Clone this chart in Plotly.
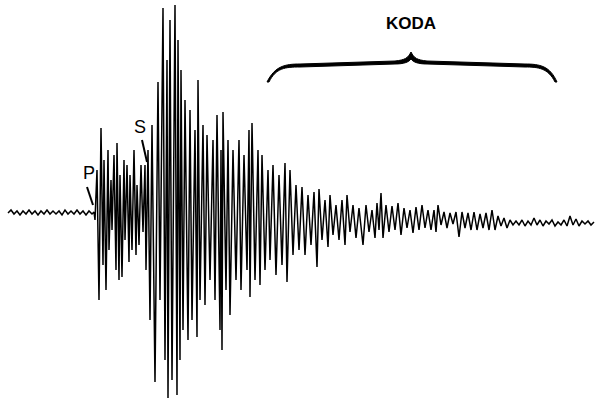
import plotly.graph_objects as go

# Seismogram trace: time position (px-like units) and displacement (positive up)
pre_t = [8, 11, 14, 17, 20, 23, 26, 29, 32, 35, 38, 41, 44, 47, 50, 53, 56, 59, 62, 65,
         68, 71, 74, 77, 80, 83, 86, 89, 92, 94]
pre_amp = [0, 3, -1, 2, -2, 2, -1, 3, -1, 2, -2, 2, -1, 3, -1, 2, -1, 2, -2, 3,
           -1, 2, -1, 3, -1, 2, -2, 2, -1, 1]

burst_t = [95, 97, 99, 101, 103, 104, 106, 108, 109, 111, 112, 114, 116, 117, 119, 120,
           122, 124, 125, 127, 129, 130, 132, 134, 136, 137, 139, 141, 143, 145, 146,
           148, 150, 152, 155, 158, 160, 163, 165, 167, 168, 170, 172, 175, 177, 178,
           180, 181, 183, 185, 188, 190, 192, 195, 197, 198, 200, 203, 205, 207, 210,
           213, 215, 217, 220, 221, 222, 223, 226, 228, 230, 233, 236, 239, 241, 244,
           247, 249, 250, 252, 255, 258, 260, 262, 265, 268, 270, 273, 276, 279, 282,
           285, 287, 290, 293, 296, 299, 302, 305, 308, 311, 314, 317, 319, 322, 325,
           328, 330, 333, 336, 339, 342, 345, 347, 350, 353, 356, 359, 363, 366, 369,
           372, 375, 377, 379, 381, 383]
burst_amp = [-7, 43, -87, 85, -52, 53, -77, 63, -37, 33, -17, 58, -57, 70, -67, 38,
             -64, 53, -27, 48, -49, 38, -37, 63, -42, 28, -32, 48, -19, 48, -57,
             63, -107, 88, -169, 131, -87, 205, -147, 153, -185, 193, -167, 208, -182, 173,
             -147, 143, -117, 113, -127, 103, -107, 83, -124, 133, -87, 88, -92, 78, -67,
             73, -87, 98, -117, 63, -137, 101, -77, 73, -102, 63, -67, 73, -77, 58,
             -57, 83, -84, 90, -67, 63, -72, 58, -57, 43, -47, 48, -62, 38, -52,
             50, -69, 43, -42, 28, -37, 26, -42, 18, -32, 21, -54, 24, -27, 13,
             -34, 18, -22, 8, -27, 13, -32, 18, -19, 8, -25, 5, -32, 8, -19,
             3, -25, 10, -17, 20, -25]

coda_t = [386, 389, 392, 395, 398, 401, 404, 407, 410, 413, 416, 419, 422, 425, 428,
          431, 434, 436, 438, 441, 444, 447, 450, 453, 456, 459, 462, 465, 468, 471,
          474, 477, 480, 483, 486, 489, 492, 495, 498, 501, 504, 507, 510, 513, 516,
          519, 522, 525, 528, 531, 534, 537, 540, 543, 546, 549, 552, 555, 558, 561,
          564, 567, 570, 573, 576, 579, 582, 585, 588, 591, 594]
coda_amp = [8, -19, 7, -17, 10, -22, 5, -15, 3, -20, 6, -17, 8, -15, 3,
            -17, 3, -19, 8, -12, 1, -15, 0, -11, 1, -24, 1, -15, 0, -17,
            1, -17, -1, -15, 0, -17, 3, -17, -3, -13, -5, -15, -7, -12, -8,
            -12, -7, -13, -8, -12, -5, -12, -7, -13, -8, -11, -7, -13, -9, -12,
            -7, -13, -3, -12, -6, -13, -8, -11, -8, -12, -9]

t = pre_t + burst_t + coda_t
amp = pre_amp + burst_amp + coda_amp

fig = go.Figure()
fig.add_trace(go.Scatter(x=t, y=amp, mode="lines",
                         line=dict(color="black", width=1.5),
                         hoverinfo="skip", showlegend=False))

# Coda brace (annotation)
brace = ("M 267,131 C 275,147 285,149 300,149 L 395,152 C 405,153 408,155 411,161 "
         "C 414,155 417,153 427,152 L 525,149 C 540,149 550,147 557,131 "
         "L 555,131 C 548,145 538,146 525,146 L 427,149 C 418,149 413,151 411,154 "
         "C 409,151 404,149 395,149 L 300,146 C 285,146 276,145 269,131 Z")
fig.add_shape(type="path", path=brace, xref="x", yref="y",
              fillcolor="black", line=dict(color="black", width=1))

# Arrows for P and S
fig.add_shape(type="line", x0=87, y0=26, x1=93, y1=8, xref="x", yref="y",
              line=dict(color="black", width=2))
fig.add_shape(type="line", x0=142, y0=73, x1=147, y1=51, xref="x", yref="y",
              line=dict(color="black", width=2))

fig.add_annotation(x=411, y=190, text="<b>KODA</b>", showarrow=False,
                   font=dict(family="Liberation Sans", size=17, color="black"))
fig.add_annotation(x=89, y=40, text="P", showarrow=False,
                   font=dict(family="Liberation Sans", size=18, color="black"))
fig.add_annotation(x=140, y=86, text="S", showarrow=False,
                   font=dict(family="Liberation Sans", size=18, color="black"))

fig.update_layout(
    width=596, height=401,
    margin=dict(l=0, r=0, t=0, b=0),
    paper_bgcolor="white", plot_bgcolor="white",
    xaxis=dict(range=[0, 596], visible=False, fixedrange=True),
    yaxis=dict(range=[-188, 213], visible=False, fixedrange=True),
)

fig.write_html("out.html")
